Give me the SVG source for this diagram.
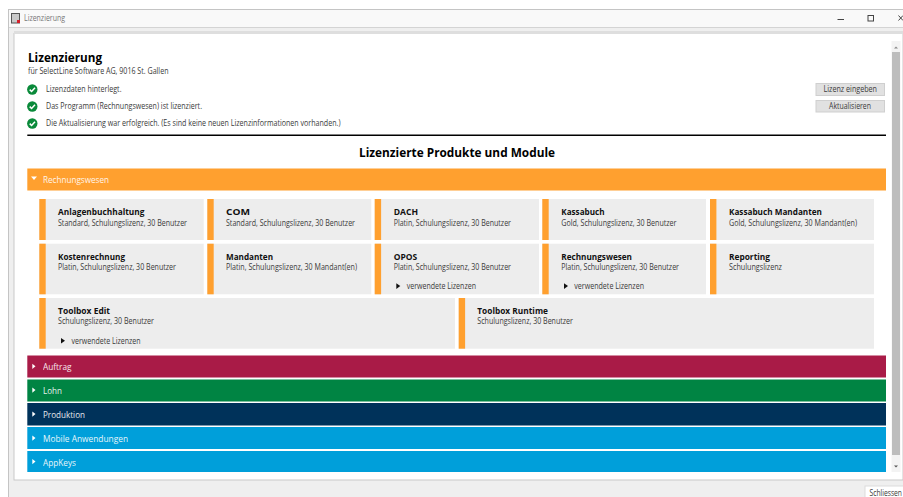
<svg xmlns="http://www.w3.org/2000/svg" xmlns:xlink="http://www.w3.org/1999/xlink" width="903" height="497" viewBox="0 0 903 497">
<style>
text{font-family:"Open Sans","Noto Sans","Liberation Sans",sans-serif;font-size:8.6px;fill:#3a3a3a}
.b{font-weight:700;fill:#111;font-size:8.8px}
.h{fill:#fff;opacity:.9;font-size:9px}
.card{fill:#ededed}
.bar{fill:#ffa02f}
.tri{fill:#111}
.wt{fill:#fff}
.btn{fill:#e1e1e1;stroke:#cfcfcf;stroke-width:1}
</style>
<defs>
<g id="check"><circle r="5.2" fill="#0a8a3a"/><path d="M-2.6 0.1L-0.7 2L2.7 -1.7" fill="none" stroke="#fff" stroke-width="1.5"/></g>
<path id="rt" class="wt" d="M0 0L3.2 2.6L0 5.2Z"/>
<path id="bt" class="tri" d="M0 0L4 2.800L0 5.600Z"/>
</defs>
<rect width="903" height="497" fill="#fff"/>
<g id="window">
<rect x="8.5" y="9.5" width="895" height="488" fill="#efefef" stroke="#c4c4c4"/>
<rect x="9" y="10" width="894" height="17" fill="#f9f9f9"/>
<rect x="9" y="27" width="894" height="1" fill="#d4d4d4"/>
<rect x="14" y="33.5" width="889" height="446.5" fill="#fff" stroke="#c9c9c9"/>
<rect x="14" y="31" width="889" height="3" fill="#dedede"/>
<g id="title-icon"><rect x="11.5" y="13.5" width="8" height="9.5" fill="#c9c9c9" stroke="#555"/><rect x="17" y="20" width="3" height="3" fill="#d3202a"/></g>
<text x="24" y="21" textLength="41" lengthAdjust="spacingAndGlyphs" style="fill:#777">Lizenzierung</text>
<path d="M837.500 19.500H844" stroke="#444" fill="none"/>
<rect x="868" y="15.500" width="5.500" height="5.500" fill="none" stroke="#444"/>
<path d="M898.500 15.500L903 20.500M903 15.500L898.500 20.500" stroke="#444" fill="none"/>
</g>
<g id="scrollbar">
<rect x="891.500" y="41" width="9" height="431" fill="#f3f3f3"/>
<rect x="892" y="52" width="8" height="403" fill="#bdbdbd"/>
<path d="M894 48.500H898L896 46.500Z" fill="#888"/>
<path d="M894 465.500H898L896 467.500Z" fill="#555"/>
</g>
<g id="head">
<text x="28" y="62" class="b" style="font-size:13px;fill:#000" textLength="74" lengthAdjust="spacingAndGlyphs">Lizenzierung</text>
<text x="28" y="73.500" textLength="140.500" lengthAdjust="spacingAndGlyphs">für SelectLine Software AG, 9016 St. Gallen</text>
<use xlink:href="#check" href="#check" x="32.300" y="89.500"/>
<text x="46" y="92" textLength="75.500" lengthAdjust="spacingAndGlyphs">Lizenzdaten hinterlegt.</text>
<use xlink:href="#check" href="#check" x="32.300" y="106.500"/>
<text x="46" y="109" textLength="156" lengthAdjust="spacingAndGlyphs">Das Programm (Rechnungswesen) ist lizenziert.</text>
<use xlink:href="#check" href="#check" x="32.300" y="123.500"/>
<text x="46" y="126" textLength="294.500" lengthAdjust="spacingAndGlyphs">Die Aktualisierung war erfolgreich. (Es sind keine neuen Lizenzinformationen vorhanden.)</text>
<g id="btn-lizenz"><rect class="btn" x="816" y="83.500" width="68.500" height="12"/><text x="823.500" y="92" textLength="53.500" lengthAdjust="spacingAndGlyphs">Lizenz eingeben</text></g>
<g id="btn-aktualisieren"><rect class="btn" x="816" y="100.500" width="68.500" height="11.500"/><text x="829" y="109" textLength="42" lengthAdjust="spacingAndGlyphs">Aktualisieren</text></g>
<rect x="27.300" y="134.500" width="858.700" height="1.500" fill="#000"/>
<text x="359" y="157" class="b" style="font-size:13px;fill:#000" textLength="196" lengthAdjust="spacingAndGlyphs">Lizenzierte Produkte und Module</text>
</g>
<g id="section-rechnungswesen">
<rect x="27.300" y="168.500" width="858.700" height="22" fill="#ffa02f"/>
<path d="M31 176.500H37L34 180Z" class="wt"/>
<text class="h" x="43" y="183" textLength="66" lengthAdjust="spacingAndGlyphs">Rechnungswesen</text>
</g>
<g id="card-anlagenbuchhaltung"><rect class="card" x="39.300" y="199" width="164.400" height="41"/><rect class="bar" x="39.300" y="199" width="6.400" height="41"/>
<text class="b" x="58" y="215" textLength="86.500" lengthAdjust="spacingAndGlyphs">Anlagenbuchhaltung</text><text x="58" y="225.500" textLength="129" lengthAdjust="spacingAndGlyphs">Standard, Schulungslizenz, 30 Benutzer</text></g>
<g id="card-com"><rect class="card" x="207.300" y="199" width="164" height="41"/><rect class="bar" x="207.300" y="199" width="6.400" height="41"/>
<text class="b" x="226" y="215" textLength="24" lengthAdjust="spacingAndGlyphs">COM</text><text x="226" y="225.500" textLength="129" lengthAdjust="spacingAndGlyphs">Standard, Schulungslizenz, 30 Benutzer</text></g>
<g id="card-dach"><rect class="card" x="374.700" y="199" width="164.300" height="41"/><rect class="bar" x="374.700" y="199" width="6.400" height="41"/>
<text class="b" x="393.700" y="215" textLength="24.300" lengthAdjust="spacingAndGlyphs">DACH</text><text x="393.700" y="225.500" textLength="117.300" lengthAdjust="spacingAndGlyphs">Platin, Schulungslizenz, 30 Benutzer</text></g>
<g id="card-kassabuch"><rect class="card" x="542.300" y="199" width="163.700" height="41"/><rect class="bar" x="542.300" y="199" width="6.400" height="41"/>
<text class="b" x="561.300" y="215" textLength="43.200" lengthAdjust="spacingAndGlyphs">Kassabuch</text><text x="561.300" y="225.500" textLength="115.200" lengthAdjust="spacingAndGlyphs">Gold, Schulungslizenz, 30 Benutzer</text></g>
<g id="card-kassabuch-mandanten"><rect class="card" x="710" y="199" width="164" height="41"/><rect class="bar" x="710" y="199" width="6.400" height="41"/>
<text class="b" x="729" y="215" textLength="93" lengthAdjust="spacingAndGlyphs">Kassabuch Mandanten</text><text x="729" y="225.500" textLength="128" lengthAdjust="spacingAndGlyphs">Gold, Schulungslizenz, 30 Mandant(en)</text></g>
<g id="card-kostenrechnung"><rect class="card" x="39.300" y="243.700" width="164.400" height="50.600"/><rect class="bar" x="39.300" y="243.700" width="6.400" height="50.600"/>
<text class="b" x="58" y="259.500" textLength="67" lengthAdjust="spacingAndGlyphs">Kostenrechnung</text><text x="58" y="270" textLength="118" lengthAdjust="spacingAndGlyphs">Platin, Schulungslizenz, 30 Benutzer</text></g>
<g id="card-mandanten"><rect class="card" x="207.300" y="243.700" width="164" height="50.600"/><rect class="bar" x="207.300" y="243.700" width="6.400" height="50.600"/>
<text class="b" x="226" y="259.500" textLength="47" lengthAdjust="spacingAndGlyphs">Mandanten</text><text x="226" y="270" textLength="131" lengthAdjust="spacingAndGlyphs">Platin, Schulungslizenz, 30 Mandant(en)</text></g>
<g id="card-opos"><rect class="card" x="374.700" y="243.700" width="164.300" height="50.600"/><rect class="bar" x="374.700" y="243.700" width="6.400" height="50.600"/>
<text class="b" x="393.700" y="259.500" textLength="23.500" lengthAdjust="spacingAndGlyphs">OPOS</text><text x="393.700" y="270" textLength="117.300" lengthAdjust="spacingAndGlyphs">Platin, Schulungslizenz, 30 Benutzer</text>
<use xlink:href="#bt" href="#bt" x="396.300" y="283.300"/><text x="406.700" y="289" textLength="69.300" lengthAdjust="spacingAndGlyphs">verwendete Lizenzen</text></g>
<g id="card-rechnungswesen"><rect class="card" x="542.300" y="243.700" width="163.700" height="50.600"/><rect class="bar" x="542.300" y="243.700" width="6.400" height="50.600"/>
<text class="b" x="561.300" y="259.500" textLength="70.700" lengthAdjust="spacingAndGlyphs">Rechnungswesen</text><text x="561.300" y="270" textLength="117.700" lengthAdjust="spacingAndGlyphs">Platin, Schulungslizenz, 30 Benutzer</text>
<use xlink:href="#bt" href="#bt" x="564" y="283.300"/><text x="574.300" y="289" textLength="69.700" lengthAdjust="spacingAndGlyphs">verwendete Lizenzen</text></g>
<g id="card-reporting"><rect class="card" x="710" y="243.700" width="164" height="50.600"/><rect class="bar" x="710" y="243.700" width="6.400" height="50.600"/>
<text class="b" x="729" y="259.500" textLength="41" lengthAdjust="spacingAndGlyphs">Reporting</text><text x="729" y="270" textLength="53" lengthAdjust="spacingAndGlyphs">Schulungslizenz</text></g>
<g id="card-toolbox-edit"><rect class="card" x="39.300" y="298" width="415.700" height="50.700"/><rect class="bar" x="39.300" y="298" width="6.400" height="50.700"/>
<text class="b" x="58" y="313.500" textLength="52" lengthAdjust="spacingAndGlyphs">Toolbox Edit</text><text x="58" y="324" textLength="96" lengthAdjust="spacingAndGlyphs">Schulungslizenz, 30 Benutzer</text>
<use xlink:href="#bt" href="#bt" x="61" y="338"/><text x="71.500" y="343.500" textLength="69" lengthAdjust="spacingAndGlyphs">verwendete Lizenzen</text></g>
<g id="card-toolbox-runtime"><rect class="card" x="458.700" y="298" width="415.300" height="50.700"/><rect class="bar" x="458.700" y="298" width="6.400" height="50.700"/>
<text class="b" x="477.300" y="313.500" textLength="70.700" lengthAdjust="spacingAndGlyphs">Toolbox Runtime</text><text x="477.300" y="324" textLength="95.700" lengthAdjust="spacingAndGlyphs">Schulungslizenz, 30 Benutzer</text></g>
<g id="section-auftrag"><rect x="27.300" y="355.500" width="858.700" height="22" fill="#a91b47"/><use xlink:href="#rt" href="#rt" x="32.300" y="363.700"/><text class="h" x="43" y="370" textLength="28.500" lengthAdjust="spacingAndGlyphs">Auftrag</text></g>
<g id="section-lohn"><rect x="27.300" y="379.500" width="858.700" height="22" fill="#008443"/><use xlink:href="#rt" href="#rt" x="32.300" y="387.500"/><text class="h" x="43" y="394" textLength="19" lengthAdjust="spacingAndGlyphs">Lohn</text></g>
<g id="section-produktion"><rect x="27.300" y="403" width="858.700" height="22.500" fill="#00325a"/><use xlink:href="#rt" href="#rt" x="32.300" y="411.500"/><text class="h" x="43" y="418" textLength="42" lengthAdjust="spacingAndGlyphs">Produktion</text></g>
<g id="section-mobile"><rect x="27.300" y="427" width="858.700" height="22" fill="#009fda"/><use xlink:href="#rt" href="#rt" x="32.300" y="435.500"/><text class="h" x="43" y="442" textLength="85" lengthAdjust="spacingAndGlyphs">Mobile Anwendungen</text></g>
<g id="section-appkeys"><rect x="27.300" y="451" width="858.700" height="21" fill="#009fda"/><use xlink:href="#rt" href="#rt" x="32.300" y="459"/><text class="h" x="43" y="465.500" textLength="33" lengthAdjust="spacingAndGlyphs">AppKeys</text></g>
<g id="btn-schliessen"><rect x="865" y="486" width="40" height="13" fill="#fff" stroke="#dcdcdc"/><text x="869.500" y="495.500" textLength="32.500" lengthAdjust="spacingAndGlyphs">Schliessen</text></g>
</svg>
